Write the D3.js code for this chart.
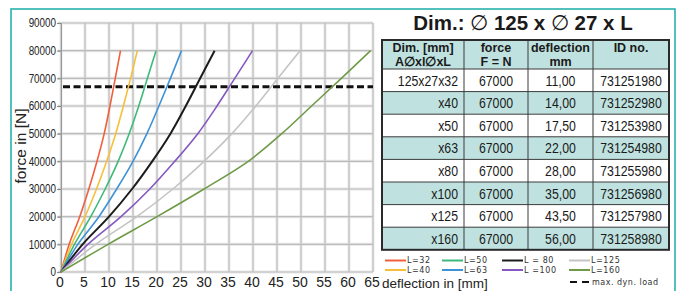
<!DOCTYPE html>
<html>
<head>
<meta charset="utf-8">
<script src="https://cdn.jsdelivr.net/npm/d3@7"></script>
<style>
  body { margin: 0; background: #fff; }
  svg { display: block; }
</style>
</head>
<body>
<div id="chart"></div>
<script>
var w = 678, h = 291;

// force levels (N) at which the deflection of each spring was read
var forceLevels = [0, 10000, 20000, 30000, 40000, 50000, 60000, 70000, 80000];
// deflection in mm per length
var deflL32  = [0, 1.7, 3.9, 5.8, 7.5, 9.0, 10.2, 11.3, 12.4];
var deflL40  = [0, 2.2, 5.0, 7.4, 9.5, 11.4, 13.0, 14.5, 15.9];
var deflL50  = [0, 2.8, 6.2, 9.2, 11.9, 14.2, 16.2, 18.0, 19.8];
var deflL63  = [0, 3.5, 7.9, 11.6, 15.0, 17.9, 20.4, 22.8, 25.1];
var deflL80  = [0, 4.5, 10.0, 14.8, 19.0, 22.8, 26.0, 29.0, 32.0];
var deflL100 = [0, 5.6, 12.5, 18.5, 23.7, 28.5, 32.5, 36.2, 39.9];
var deflL125 = [0, 7.2, 15.8, 23.3, 29.8, 35.6, 40.6, 45.2, 49.8];
var deflL160 = [0, 9.8, 20.0, 29.8, 39.0, 46.0, 52.2, 58.4, 64.5];
var maxDynLoad = 67000;

var xTicks = [0, 5, 10, 15, 20, 25, 30, 35, 40, 45, 50, 55, 60, 65];
var yTicks = [0, 10000, 20000, 30000, 40000, 50000, 60000, 70000, 80000, 90000];

var legendLabels = ['L=32', 'L=40', 'L=50', 'L=63', 'L = 80', 'L =100', 'L=125', 'L=160'];
var seriesColors = ['#f0603e', '#f7c03a', '#3fb97a', '#3d92d8', '#1c1c1c', '#8559bf', '#c4c4c4', '#6f9a47'];

// table
var headLine1 = ['Dim. [mm]', 'force', 'deflection', 'ID no.'];
var headLine2 = ['A\u2205xl\u2205xL', 'F = N', 'mm', ''];
var dimLabels = ['125x27x32', 'x40', 'x50', 'x63', 'x80', 'x100', 'x125', 'x160'];
var tableForce = ['67000', '67000', '67000', '67000', '67000', '67000', '67000', '67000'];
var tableDefl = ['11,00', '14,00', '17,50', '22,00', '28,00', '35,00', '43,50', '56,00'];
var idNumbers = ['731251980', '731252980', '731253980', '731254980', '731255980', '731256980', '731257980', '731258980'];

var allDefl = [deflL32, deflL40, deflL50, deflL63, deflL80, deflL100, deflL125, deflL160];

// the original uses a narrow font, squeeze the glyphs
function condense(sel, k) {
  sel.each(function () {
    var len = this.getComputedTextLength();
    d3.select(this)
      .attr('textLength', len * k)
      .attr('lengthAdjust', 'spacingAndGlyphs');
  });
}

var svg = d3.select('#chart').append('svg')
  .attr('width', w)
  .attr('height', h);

// teal frame
svg.append('rect')
  .attr('x', 11).attr('y', 9)
  .attr('width', 664).attr('height', 300)
  .attr('fill', 'none')
  .attr('stroke', '#1aaca7')
  .attr('stroke-width', 1.5);

var x = d3.scaleLinear().domain([0, 65]).range([61, 373]);
var y = d3.scaleLinear().domain([0, 90000]).range([272, 23]);

var grid = svg.append('g');
// soft halo then the line itself, the scan looks a bit blurred
[['#e8e8e8', 3], ['#bbbbbb', 1.1]].forEach(function (s) {
  grid.selectAll(null).data(xTicks).enter().append('line')
    .attr('x1', function (d) { return x(d); }).attr('x2', function (d) { return x(d); })
    .attr('y1', y(90000)).attr('y2', y(0))
    .attr('stroke', s[0]).attr('stroke-width', s[1]);
  grid.selectAll(null).data(yTicks).enter().append('line')
    .attr('x1', 58).attr('x2', x(65))
    .attr('y1', function (d) { return y(d); }).attr('y2', function (d) { return y(d); })
    .attr('stroke', s[0]).attr('stroke-width', s[1]);
});

// y axis
var yAxis = svg.append('g')
  .attr('transform', 'translate(61,0)')
  .call(d3.axisLeft(y).tickValues(yTicks).tickSize(4).tickPadding(1).tickFormat(d3.format('d')));
yAxis.select('.domain').attr('stroke', '#999');
yAxis.selectAll('.tick line').attr('stroke', '#888');
yAxis.selectAll('text')
  .attr('fill', '#222')
  .style('font-family', "'Liberation Sans', Arial, sans-serif")
  .style('font-size', '12px')
  .call(condense, 0.82);

// x axis labels
var xAxis = svg.append('g')
  .attr('transform', 'translate(0,' + y(0) + ')')
  .call(d3.axisBottom(x).tickValues(xTicks).tickSize(0).tickPadding(5));
xAxis.select('.domain').remove();
xAxis.selectAll('text')
  .attr('fill', '#222')
  .attr('dx', -1.5)
  .style('font-family', "'Liberation Sans', Arial, sans-serif")
  .style('font-size', '14px');

svg.append('text')
  .attr('x', 382).attr('y', 287.5)
  .attr('fill', '#222')
  .style('font-family', "'Liberation Sans', Arial, sans-serif")
  .style('font-size', '13.5px')
  .text('deflection in [mm]');

svg.append('text')
  .attr('transform', 'translate(26,146) rotate(-90)')
  .attr('text-anchor', 'middle')
  .attr('fill', '#222')
  .style('font-family', "'Liberation Sans', Arial, sans-serif")
  .style('font-size', '15.5px')
  .text('force in [N]');

// max dyn. load
svg.append('line')
  .attr('x1', 63).attr('x2', x(65))
  .attr('y1', y(maxDynLoad)).attr('y2', y(maxDynLoad))
  .attr('stroke', '#111')
  .attr('stroke-width', 3)
  .attr('stroke-dasharray', '7,3.5');

// curves
var line = d3.line()
  .x(function (d) { return x(d[0]); })
  .y(function (d) { return y(d[1]); })
  .curve(d3.curveCatmullRom.alpha(0.5));

svg.append('g').selectAll('path')
  .data(allDefl)
  .enter().append('path')
  .attr('d', function (defl) {
    return line(defl.map(function (v, i) { return [v, forceLevels[i]]; }));
  })
  .attr('fill', 'none')
  .attr('stroke', function (d, i) { return seriesColors[i]; })
  .attr('stroke-width', function (d, i) { return i == 4 ? 2 : 1.6; });

// ---- table ----
var title = svg.append('text')
  .attr('x', 523).attr('y', 30)
  .attr('text-anchor', 'middle')
  .attr('fill', '#1a1a1a')
  .style('font-family', "'Liberation Sans', Arial, sans-serif")
  .style('font-weight', 'bold')
  .style('font-size', '20.5px');
['Dim.: ', '\u2205', ' 125 x ', '\u2205', ' 27 x L'].forEach(function (t) {
  title.append('tspan')
    .style('font-weight', t == '\u2205' ? 'normal' : 'bold')
    .text(t);
});

var colEdges = [382, 464, 528, 593, 669];
var headTop = 40, headH = 29, rowH = 22.6;
var teal = '#bfe2e0';

var tbl = svg.append('g');
tbl.append('rect')
  .attr('x', colEdges[0]).attr('y', headTop)
  .attr('width', colEdges[4] - colEdges[0]).attr('height', headH)
  .attr('fill', teal);

tbl.selectAll('rect.row')
  .data(dimLabels)
  .enter().append('rect')
  .attr('class', 'row')
  .attr('x', colEdges[0])
  .attr('y', function (d, i) { return headTop + headH + i * rowH; })
  .attr('width', colEdges[4] - colEdges[0])
  .attr('height', rowH)
  .attr('fill', function (d, i) { return i % 2 ? teal : '#fff'; });

var tableBottom = headTop + headH + dimLabels.length * rowH;

// horizontal rules
tbl.selectAll('line.h')
  .data(d3.range(dimLabels.length))
  .enter().append('line')
  .attr('x1', colEdges[0]).attr('x2', colEdges[4])
  .attr('y1', function (i) { return headTop + headH + i * rowH; })
  .attr('y2', function (i) { return headTop + headH + i * rowH; })
  .attr('stroke', '#3a3a3a').attr('stroke-width', 1);

// vertical rules
tbl.selectAll('line.v')
  .data(colEdges.slice(1, 4))
  .enter().append('line')
  .attr('x1', function (d) { return d; }).attr('x2', function (d) { return d; })
  .attr('y1', headTop).attr('y2', tableBottom)
  .attr('stroke', '#3a3a3a').attr('stroke-width', 1);

tbl.append('rect')
  .attr('x', colEdges[0]).attr('y', headTop)
  .attr('width', colEdges[4] - colEdges[0]).attr('height', tableBottom - headTop)
  .attr('fill', 'none')
  .attr('stroke', '#2a2a2a').attr('stroke-width', 2);

var colCenters = [0, 1, 2, 3].map(function (i) { return (colEdges[i] + colEdges[i + 1]) / 2; });

var headFont = "'Liberation Sans', Arial, sans-serif";
headLine1.forEach(function (t, i) {
  tbl.append('text')
    .attr('x', colCenters[i]).attr('y', headTop + 12)
    .attr('text-anchor', 'middle').attr('fill', '#1a1a1a')
    .style('font-family', headFont).style('font-weight', 'bold').style('font-size', '12.5px')
    .text(t);
  tbl.append('text')
    .attr('x', colCenters[i]).attr('y', headTop + 26)
    .attr('text-anchor', 'middle').attr('fill', '#1a1a1a')
    .style('font-family', headFont).style('font-weight', 'bold').style('font-size', '12.5px')
    .text(headLine2[i]);
});

var cols = [dimLabels, tableForce, tableDefl, idNumbers];
cols.forEach(function (col, c) {
  tbl.selectAll(null)
    .data(col)
    .enter().append('text')
    .attr('x', c == 0 ? colEdges[1] - 6 : colCenters[c])
    .attr('y', function (d, i) { return headTop + headH + i * rowH + 16.5; })
    .attr('text-anchor', c == 0 ? 'end' : 'middle')
    .attr('fill', '#1a1a1a')
    .style('font-family', "'Liberation Sans', Arial, sans-serif")
    .style('font-size', '15px')
    .text(function (d) { return d; })
    .call(condense, 0.82);
});

// ---- legend ----
var legX = [385, 442, 502, 569];
var legY = [260.5, 270];
var legFont = "'DejaVu Sans', Verdana, sans-serif";
var leg = svg.append('g');
legendLabels.forEach(function (lab, i) {
  var cx = legX[Math.floor(i / 2)], cy = legY[i % 2];
  leg.append('line')
    .attr('x1', cx).attr('x2', cx + 21)
    .attr('y1', cy).attr('y2', cy)
    .attr('stroke', seriesColors[i]).attr('stroke-width', 2);
  leg.append('text')
    .attr('x', cx + 22).attr('y', cy + 2.5)
    .attr('fill', '#333')
    .style('font-family', legFont)
    .style('font-size', '8px')
    .style('letter-spacing', '0.6px')
    .text(lab);
});
leg.append('line')
  .attr('x1', 570).attr('x2', 589)
  .attr('y1', 282).attr('y2', 282)
  .attr('stroke', '#111').attr('stroke-width', 2)
  .attr('stroke-dasharray', '7,5');
leg.append('text')
  .attr('x', 592).attr('y', 285)
  .attr('fill', '#333')
  .style('font-family', legFont)
  .style('font-size', '8px')
  .style('letter-spacing', '0.5px')
  .text('max. dyn. load');
</script>
</body>
</html>
